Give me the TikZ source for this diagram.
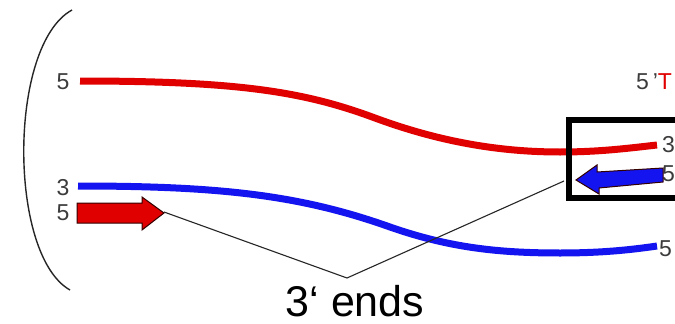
\documentclass[tikz,border=0pt]{standalone}
\usepackage{fontspec}
\setmainfont{Liberation Sans}
\definecolor{strandred}{RGB}{225,0,0}
\definecolor{strandblue}{RGB}{20,20,240}
\definecolor{labgray}{RGB}{60,60,60}
\begin{document}
\begin{tikzpicture}[x=1pt,y=-1pt,
  strand/.style={line width=7pt,line cap=butt},
  lab/.style={text=labgray,font=\fontsize{23}{23}\selectfont,inner sep=0pt,anchor=base},
  pointer/.style={line width=1.1pt,black!85},
  arrowshape/.style={draw=black!80!red,line width=1pt,line join=miter}]
\useasboundingbox (0,0) rectangle (675,324);
\fill[white] (0,0) rectangle (675,324);
% parenthesis
\draw[line width=1.4pt,black!85] (72,10) .. controls (8,45) and (8,255) .. (70,290);
% strands
\draw[strand,strandred] (80,81) .. controls (240,81) and (305,92) .. (375,118)
  .. controls (440,142) and (500,152) .. (560,152)
  .. controls (600,152) and (630,148) .. (657,145);
\draw[strand,strandblue] (78,186) .. controls (220,186) and (300,195) .. (390,227)
  .. controls (450,248) and (500,253) .. (560,253)
  .. controls (600,253) and (630,250) .. (657,246);
% labels
\node[lab] (l5a) at (63,89) {5};
\node[lab] (l3b) at (63,195) {3};
\node[lab] (l5b) at (63,220) {5};
\node[lab,anchor=base west] (r5t) at (636,89) {5\,'\textcolor{strandred}{T}};
\node[lab,anchor=base west] (r3) at (662,152) {3};
\node[lab,anchor=base west] (r5) at (662,181) {5};
\node[lab,anchor=base west] (r5c) at (659,256) {5};
% box
\draw[line width=6pt,black] (569,120) rectangle (690,198);
% red arrow
\fill[strandred,arrowshape] (77,203) -- (142,203) -- (142,197) -- (164,213) -- (142,230) -- (142,223) -- (77,223) -- cycle;
% blue arrow
\fill[strandblue,arrowshape] (663,168) -- (597,172) -- (597,165) -- (576,180) -- (599,194) -- (599,188) -- (663,182) -- cycle;
% pointers
\coordinate (redtip) at (164,212);
\coordinate (bluetip) at (564,181);
\coordinate (meet) at (347,278);
\node[font=\fontsize{43}{43}\selectfont,inner sep=0pt,anchor=base] (ends) at (355,316) {3‘ ends};
\draw[pointer] (redtip) -- (meet) -- (bluetip);
\end{tikzpicture}
\end{document}
